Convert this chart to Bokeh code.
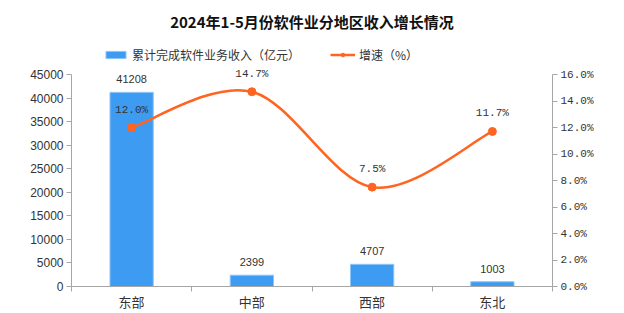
from bokeh.plotting import figure
from bokeh.models import (Range1d, LinearAxis, FixedTicker, PrintfTickFormatter,
                          NumeralTickFormatter, ColumnDataSource, Legend, LegendItem)
from bokeh.core.properties import value
from bokeh.embed import file_html
from bokeh.resources import INLINE

title_text = "2024年1-5月份软件业分地区收入增长情况"
regions = ["东部", "中部", "西部", "东北"]
revenue = [41208, 2399, 4707, 1003]
growth = [12.0, 14.7, 7.5, 11.7]
growth_labels = ["12.0%", "14.7%", "7.5%", "11.7%"]
left_ticks = [0, 5000, 10000, 15000, 20000, 25000, 30000, 35000, 40000, 45000]
right_ticks = [0, 2, 4, 6, 8, 10, 12, 14, 16]
bar_name = "累计完成软件业务收入（亿元）"
line_name = "增速（%）"

BAR = "#3d9bf2"
ORANGE = "#ff6420"
AXIS = "#a6a6a6"
TXT = "#333333"

n = len(regions)
xc = [i + 0.5 for i in range(n)]

# frame extends above the top tick so labels and legend are not clipped
FRAME_TOP, AXIS_TOP, FRAME_BOTTOM = 36, 74, 286
stretch = (FRAME_BOTTOM - FRAME_TOP) / (FRAME_BOTTOM - AXIS_TOP)
ymax_l = left_ticks[-1]
ymax_r = right_ticks[-1]

p = figure(width=624, height=313, output_backend="svg", toolbar_location=None,
           x_range=Range1d(0, n), y_range=Range1d(0, ymax_l * stretch),
           min_border_left=71, min_border_right=72, min_border_top=FRAME_TOP,
           min_border_bottom=313 - FRAME_BOTTOM)
p.extra_y_ranges = {"pct": Range1d(0, ymax_r * stretch)}
p.xgrid.visible = False
p.ygrid.visible = False
p.outline_line_color = None
p.background_fill_color = "white"
p.border_fill_color = "white"

p.title.text = title_text
p.title.align = "center"
p.title.text_font = "Noto Sans CJK SC"
p.title.text_font_size = "15px"
p.title.text_font_style = "bold"
p.title.text_color = "#111111"
p.title.standoff = 10

src = ColumnDataSource(dict(x=xc, rev=revenue, g=growth, gl=growth_labels,
                            rl=[str(v) for v in revenue]))

bars = p.vbar(x="x", top="rev", width=0.36, source=src, fill_color=BAR,
              line_color="#8cc6fa", line_width=1)
p.text(x="x", y="rev", text="rl", source=src, text_align="center", text_baseline="bottom",
       y_offset=-9, text_font=value("Liberation Sans"), text_font_size="11px", text_color=TXT)

# smooth line via Catmull-Rom -> Bezier in data space
bx0, by0, bx1, by1, c0x, c0y, c1x, c1y = [], [], [], [], [], [], [], []
for i in range(n - 1):
    p0 = (xc[max(i - 1, 0)], growth[max(i - 1, 0)])
    p1 = (xc[i], growth[i])
    p2 = (xc[i + 1], growth[i + 1])
    p3 = (xc[min(i + 2, n - 1)], growth[min(i + 2, n - 1)])
    bx0.append(p1[0]); by0.append(p1[1]); bx1.append(p2[0]); by1.append(p2[1])
    c0x.append(p1[0] + (p2[0] - p0[0]) / 6); c0y.append(p1[1] + (p2[1] - p0[1]) / 6)
    c1x.append(p2[0] - (p3[0] - p1[0]) / 6); c1y.append(p2[1] - (p3[1] - p1[1]) / 6)
p.bezier(x0=bx0, y0=by0, x1=bx1, y1=by1, cx0=c0x, cy0=c0y, cx1=c1x, cy1=c1y,
         line_color=ORANGE, line_width=2.5, y_range_name="pct")
dots = p.scatter(x="x", y="g", source=src, size=8, fill_color=ORANGE, line_color=ORANGE,
                 y_range_name="pct")
legline = p.line(x=[xc[0]], y=[growth[0]], line_color=ORANGE, line_width=2.5,
                 y_range_name="pct")
p.text(x="x", y="g", text="gl", source=src, text_align="center", text_baseline="bottom",
       y_offset=-12, text_font=value("Liberation Mono"), text_font_size="11px",
       text_color=TXT, y_range_name="pct")

# axes
p.yaxis.ticker = FixedTicker(ticks=left_ticks)
p.yaxis.formatter = NumeralTickFormatter(format="0")
p.yaxis.bounds = (0, ymax_l)
ra = LinearAxis(y_range_name="pct", ticker=FixedTicker(ticks=right_ticks),
                formatter=PrintfTickFormatter(format="%.1f%%"), bounds=(0, ymax_r))
p.add_layout(ra, "right")
for ax in (p.yaxis[0], ra):
    ax.axis_line_color = AXIS
    ax.major_tick_line_color = AXIS
    ax.major_tick_in = 0
    ax.major_tick_out = 5
    ax.minor_tick_line_color = None
    ax.major_label_text_color = TXT
    ax.major_label_text_font_size = "11px"
    ax.major_label_standoff = 3
p.yaxis[0].major_label_text_font = "Liberation Sans"
p.yaxis[0].major_label_text_font_size = "12px"
ra.major_label_text_font = "Liberation Mono"

p.xaxis.ticker = FixedTicker(ticks=xc, minor_ticks=[0, 1, 2, 3, 4])
p.xaxis.major_label_overrides = {x: r for x, r in zip(xc, regions)}
p.xaxis.axis_line_color = AXIS
p.xaxis.major_tick_line_color = None
p.xaxis.major_tick_out = 0
p.xaxis.major_tick_in = 0
p.xaxis.minor_tick_line_color = AXIS
p.xaxis.minor_tick_in = 0
p.xaxis.minor_tick_out = 5
p.xaxis.major_label_text_font = "Noto Sans CJK SC"
p.xaxis.major_label_text_font_size = "13px"
p.xaxis.major_label_text_color = TXT
p.xaxis.major_label_standoff = 0

legend = Legend(items=[LegendItem(label=bar_name, renderers=[bars]),
                       LegendItem(label=line_name, renderers=[legline, dots])],
                orientation="horizontal", location=(32, FRAME_BOTTOM - 63),
                glyph_width=25, glyph_height=9, label_text_font="Noto Sans CJK SC",
                label_text_font_size="12px", label_text_color=TXT, spacing=30,
                padding=2, margin=0, border_line_color=None, background_fill_alpha=0,
                label_standoff=4, label_height=14)
p.add_layout(legend, "center")

open("out.html", "w").write(file_html(p, INLINE))
